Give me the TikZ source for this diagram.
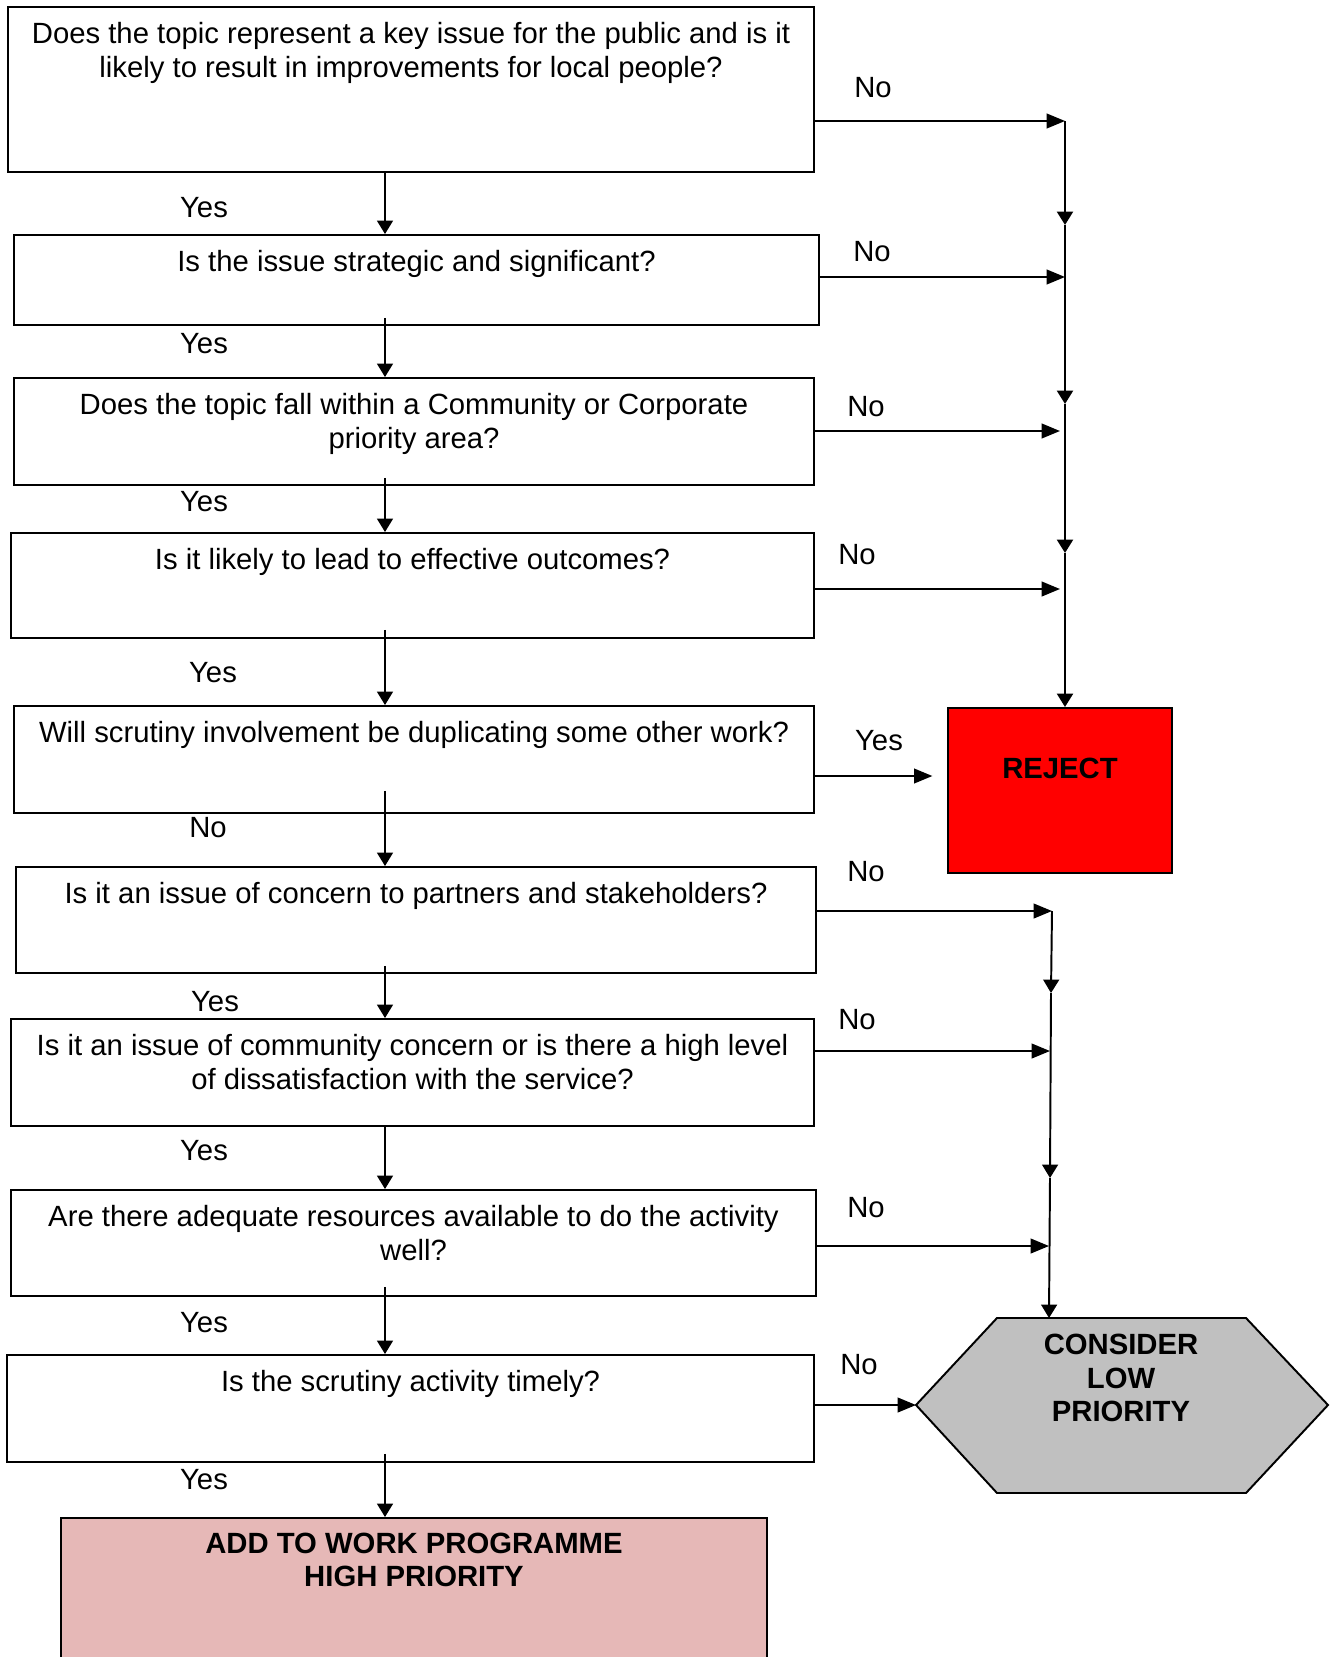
\documentclass[tikz,border=0pt]{standalone}
\usepackage{fontspec}
\setmainfont{Liberation Sans}
\usetikzlibrary{arrows.meta,positioning,calc}
\newcommand{\pxu}{0.41pt}
\definecolor{rejred}{RGB}{255,0,0}
\definecolor{lowgray}{RGB}{192,192,192}
\definecolor{addpink}{RGB}{230,184,183}

\begin{document}
\begin{tikzpicture}[x=\pxu, y=-\pxu, line join=miter, font=\fontsize{12}{13.7}\selectfont]
	\tikzset{qbox/.style 2 args={draw, line width=0.8pt, minimum width=#1*\pxu, minimum height=#2*\pxu, inner sep=0pt},
		qtext/.style={align=center, inner sep=0pt},
		btext/.style={align=center, inner sep=0pt, font=\fontsize{12}{13.7}\selectfont\bfseries},
		harr/.style={line width=0.8pt, -{Triangle[length=7.5pt, width=6pt]}},
		varr/.style={line width=0.8pt, -{Triangle[length=5.5pt, width=6.5pt]}}}
	\useasboundingbox (0,0) rectangle (1334,1657);
	% question boxes
	\node[qbox={806}{165}] (q1) at (411,89.5) {};
	\node[qbox={805}{90}] (q2) at (416.5,280) {};
	\node[qbox={800}{107}] (q3) at (414,431.5) {};
	\node[qbox={803}{105}] (q4) at (412.5,585.5) {};
	\node[qbox={800}{107}] (q5) at (414,759.5) {};
	\node[qbox={800}{106}] (q6) at (416,920) {};
	\node[qbox={803}{107}] (q7) at (412.5,1072.5) {};
	\node[qbox={805}{106}] (q8) at (413.5,1243) {};
	\node[qbox={807}{107}] (q9) at (410.5,1408.5) {};
	\node[qtext, below=6.6pt of q1.north] (t1) {Does the topic represent a key issue for the public and is it\\likely to result in improvements for local people?};
	\node[qtext, below=6.6pt of q2.north] (t2) {Is the issue strategic and significant?};
	\node[qtext, below=6.6pt of q3.north] (t3) {Does the topic fall within a Community or Corporate\\priority area?};
	\node[qtext, below=6.6pt of q4.north] (t4) {Is it likely to lead to effective outcomes?};
	\node[qtext, below=6.6pt of q5.north] (t5) {Will scrutiny involvement be duplicating some other work?};
	\node[qtext, below=6.6pt of q6.north] (t6) {Is it an issue of concern to partners and stakeholders?};
	\node[qtext, below=6.6pt of q7.north] (t7) {Is it an issue of community concern or is there a high level\\of dissatisfaction with the service?};
	\node[qtext, below=6.6pt of q8.north] (t8) {Are there adequate resources available to do the activity\\well?};
	\node[qtext, below=6.6pt of q9.north] (t9) {Is the scrutiny activity timely?};
	% outcomes
	\node[qbox={224}{165}, fill=rejred] (rej) at (1060,790.5) {};
	\node[btext] (rejt) at (1060,768) {REJECT};
	\node[qbox={706}{160}, fill=addpink] (add) at (414,1598) {};
	\node[btext] (addt) at (414,1560) {ADD TO WORK PROGRAMME\\HIGH PRIORITY};
	\draw[line width=0.8pt, fill=lowgray] (916,1405) coordinate (hw) -- (997,1318) -- (1246,1318) -- (1328,1405) -- (1246,1493) -- (997,1493) -- cycle;
	\node[btext] (lowt) at (1121,1378) {CONSIDER\\LOW\\PRIORITY};
	% yes path down the left
	\coordinate (ax) at (385,0);
	\foreach \a/\b/\s in {q1/q2/0, q2/q3/8, q3/q4/8, q4/q5/9, q5/q6/23, q6/q7/8, q7/q8/0, q8/q9/10, q9/add/9}
		\draw[varr] ($(\a.south -| ax)+(0,-\s)$) -- (\b.north -| ax);
	% reject trunk
	\coordinate (r0) at (1065,121);
	\coordinate (r1) at (1065,225);
	\coordinate (r2) at (1065,404);
	\coordinate (r3) at (1065,553);
	\coordinate (n2) at (1065,277);
	\coordinate (n3) at (1060,431);
	\coordinate (n4) at (1060,589);
	\coordinate (y5) at (0,776);
	\draw[varr, line width=1.1pt] (r0) -- (r1);
	\draw[varr, line width=1.1pt] (r1) -- (r2);
	\draw[varr, line width=1.1pt] (r2) -- (r3);
	\draw[varr, line width=1.1pt] (r3) -- (r3 |- rej.north);
	\draw[harr] (q1.east |- r0) -- (r0);
	\draw[harr] (q2.east |- n2) -- (n2);
	\draw[harr] (q3.east |- n3) -- (n3);
	\draw[harr] (q4.east |- n4) -- (n4);
	\draw[harr, shorten >=6pt] (q5.east |- y5) -- (rej.west |- y5);
	% low priority trunk
	\coordinate (s0) at (1052,911);
	\coordinate (s1) at (1051,993);
	\coordinate (s2) at (1050,1178);
	\coordinate (hn) at (1049,1318);
	\coordinate (n7) at (1050,1051);
	\coordinate (n8) at (1049,1246);
	\draw[varr] (s0) -- (s1);
	\draw[varr] (s1) -- (s2);
	\draw[varr] (s2) -- (hn);
	\draw[harr] (q6.east |- s0) -- (s0);
	\draw[harr] (q7.east |- n7) -- (n7);
	\draw[harr] (q8.east |- n8) -- (n8);
	\draw[harr] (q9.east |- hw) -- (hw);
	% answers
	\foreach \x/\y/\t [count=\i] in {204/208/Yes, 204/344/Yes, 204/502/Yes, 213/673/Yes, 208/828/No, 215/1002/Yes, 204/1151/Yes, 204/1323/Yes, 204/1480/Yes}
		\node (ya\i) at (\x,\y) {\t};
	\foreach \x/\y/\t [count=\i] in {873/88/No, 872/252/No, 866/407/No, 857/555/No, 879/741/Yes, 866/872/No, 857/1020/No, 866/1208/No, 859/1365/No}
		\node (na\i) at (\x,\y) {\t};
\end{tikzpicture}
\end{document}
